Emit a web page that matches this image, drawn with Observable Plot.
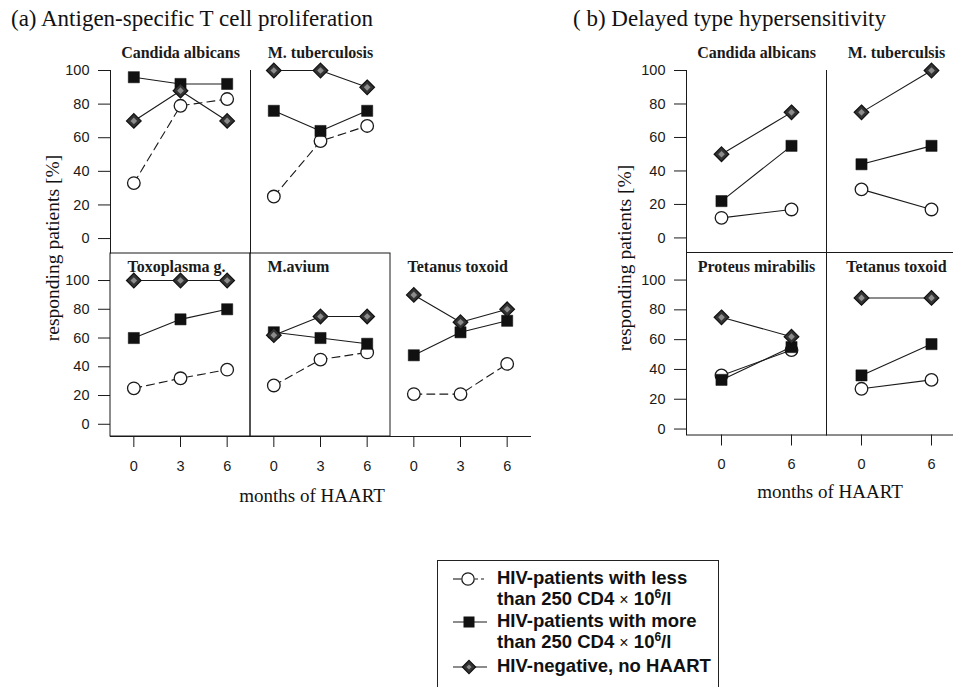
<!DOCTYPE html>
<html>
<head>
<meta charset="utf-8">
<script src="https://cdn.jsdelivr.net/npm/d3@7"></script>
<script src="https://cdn.jsdelivr.net/npm/@observablehq/plot@0.6"></script>
<style>
  html, body { margin: 0; padding: 0; background: #fff; }
  #root { position: relative; width: 953px; height: 687px; overflow: hidden; background: #fff; color: #111; }
  .abs { position: absolute; white-space: nowrap; }
  .serif { font-family: "Liberation Serif", "Times New Roman", serif; }
  .title { font-size: 23px; line-height: 1; transform: translateY(-50%); }
  .xlab { font-size: 19px; line-height: 1; transform: translate(-50%, -50%); }
  .ylab { font-size: 19.5px; line-height: 1; transform: translate(-50%, -50%) rotate(-90deg); }
  .legend { position: absolute; border: 1px solid #222; box-sizing: border-box; font-family: "Liberation Sans", Arial, sans-serif; font-weight: bold; font-size: 18.5px; line-height: 21px; color: #111; }
  .legend svg { position: absolute; overflow: visible; }
  .legend .txt { position: absolute; left: 59px; white-space: nowrap; }
  .legend .times { font-weight: normal; font-size: 16px; }
  .legend sup { font-size: 12px; line-height: 0; vertical-align: 7px; }
</style>
</head>
<body>
<div id="root"></div>
<script>
// ---------------- data ----------------
const monthsA = [0, 3, 6];
const monthsB = [0, 6];
const antigensA = ["Candida albicans", "M. tuberculosis", "Toxoplasma g.", "M.avium", "Tetanus toxoid"];
const antigensB = ["Candida albicans", "M. tuberculsis", "Proteus mirabilis", "Tetanus toxoid"];
const yTicks = [0, 20, 40, 60, 80, 100];

// (a) antigen-specific T cell proliferation, % responding (rows follow antigensA, columns follow monthsA)
const prolifLow  = [[33, 79, 83], [25, 58, 67], [25, 32, 38], [27, 45, 50], [21, 21, 42]];
const prolifHigh = [[96, 92, 92], [76, 64, 76], [60, 73, 80], [64, 60, 56], [48, 64, 72]];
const prolifNeg  = [[70, 88, 70], [100, 100, 90], [100, 100, 100], [62, 75, 75], [90, 71, 80]];

// (b) delayed type hypersensitivity, % responding (rows follow antigensB, columns follow monthsB)
const dthLow  = [[12, 17], [29, 17], [36, 53], [27, 33]];
const dthHigh = [[22, 55], [44, 55], [33, 55], [36, 57]];
const dthNeg  = [[50, 75], [75, 100], [75, 62], [88, 88]];

const titleA = "(a) Antigen-specific T cell proliferation";
const titleB = "( b) Delayed type hypersensitivity";
const yLabel = "responding patients [%]";
const xLabel = "months of HAART";

// ---------------- helpers ----------------
function tidy(antigens, months, series) {
  const out = [];
  series.forEach((vals, g) => vals.forEach((row, i) => row.forEach((v, j) =>
    out.push({antigen: antigens[i], month: months[j], value: v, group: g}))));
  return out;
}
const dataA = tidy(antigensA, monthsA, [prolifLow, prolifHigh, prolifNeg]);
const dataB = tidy(antigensB, monthsB, [dthLow, dthHigh, dthNeg]);

const root = document.getElementById("root");
const INK = "#1a1a1a";
const SERIF = "Liberation Serif, Times New Roman, serif";

function row(o) {
  const ml = 60, mr = 12, mt = 30, mb = o.showX ? 60 : 10;
  const pw = 140;
  const rows = o.data.filter(d => o.panels.includes(d.antigen));
  const grp = k => rows.filter(d => d.group === k);
  const marks = [];
  // panel borders
  if (o.border === "left") marks.push(Plot.frame({anchor: "left", stroke: INK}));
  if (o.border === "full") marks.push(Plot.frame({stroke: INK}));
  if (o.border === "boxes") {
    marks.push(Plot.rect(o.boxed, {fx: d => d, fill: "none", stroke: INK}));
    marks.push(Plot.frame({anchor: "bottom", stroke: INK}));
  }
  // axes
  marks.push(Plot.axisY({ticks: yTicks, tickSize: 12, tickPadding: 9, label: null, fontSize: 14.5, stroke: INK}));
  if (o.showX) marks.push(Plot.axisX({ticks: o.months, tickSize: 11, tickPadding: 13, label: null, fontSize: 14.5, stroke: INK}));
  // panel titles
  const tOpts = {fx: d => d, text: d => d, fontFamily: SERIF, fontWeight: "bold", fontSize: 16, fill: INK, lineAnchor: "middle"};
  if (o.titles === "above") marks.push(Plot.text(o.panels, {...tOpts, frameAnchor: "top", dy: -18}));
  if (o.titles === "insideLeft") marks.push(Plot.text(o.panels, {...tOpts, frameAnchor: "top-left", textAnchor: "start", dx: 17, dy: 13}));
  if (o.titles === "inside") marks.push(Plot.text(o.panels, {...tOpts, frameAnchor: "top", dy: 14}));
  // series lines
  const base = {fx: "antigen", x: "month", y: "value"};
  marks.push(Plot.line(grp(0), {...base, stroke: INK, strokeWidth: 1.1, strokeDasharray: o.dashLow ? "8,5" : null}));
  marks.push(Plot.line(grp(1), {...base, stroke: INK, strokeWidth: 1.1}));
  marks.push(Plot.line(grp(2), {...base, stroke: INK, strokeWidth: 1.1}));
  // symbols
  marks.push(Plot.dot(grp(0), {...base, symbol: "circle", r: 6.3, fill: "white", stroke: INK, strokeWidth: 1.3}));
  marks.push(Plot.dot(grp(1), {...base, symbol: "square", r: 6.3, fill: "#111", stroke: "#111", strokeWidth: 0.5}));
  marks.push(Plot.dot(grp(2), {...base, symbol: "diamond2", r: 6.6, fill: "#333", stroke: "#111", strokeWidth: 1.2}));
  marks.push(Plot.dot(grp(2), {...base, symbol: "diamond2", r: 3, fill: "#8c8c8c", stroke: "none"}));

  const xOpts = {domain: o.xDomain};
  if (!o.showX) xOpts.axis = null;
  const plot = Plot.plot({
    width: ml + o.panels.length * pw + mr,
    height: mt + (o.frameBottom - o.frameTop) + mb,
    marginTop: mt, marginBottom: mb, marginLeft: ml, marginRight: mr,
    fx: {domain: o.panels, padding: 0, axis: null},
    x: xOpts,
    y: {domain: o.yDomain},
    style: {fontFamily: "Liberation Sans, Arial, sans-serif", fontSize: "14px", color: INK, background: "transparent", overflow: "visible"},
    marks
  });
  plot.style.position = "absolute";
  plot.style.left = (o.frameLeft - ml) + "px";
  plot.style.top = (o.frameTop - mt) + "px";
  root.appendChild(plot);
}

// (a) top row
row({panels: antigensA.slice(0, 2), data: dataA, months: monthsA, xDomain: [-1.5, 7.5], yDomain: [-8.6, 100],
     frameTop: 70, frameBottom: 252.5, frameLeft: 109.5, showX: false, dashLow: true, border: "left", titles: "above"});
// (a) bottom row
row({panels: antigensA.slice(2), data: dataA, months: monthsA, xDomain: [-1.5, 7.5], yDomain: [-8.5, 118.8],
     frameTop: 252.5, frameBottom: 435.5, frameLeft: 109.5, showX: true, dashLow: true, border: "boxes",
     boxed: antigensA.slice(2, 4), titles: "insideLeft"});
// (b) top row
row({panels: antigensB.slice(0, 2), data: dataB, months: monthsB, xDomain: [-3, 9], yDomain: [-9, 100],
     frameTop: 69.5, frameBottom: 252, frameLeft: 685.5, showX: false, dashLow: false, border: "left", titles: "above"});
// (b) bottom row
row({panels: antigensB.slice(2), data: dataB, months: monthsB, xDomain: [-3, 9], yDomain: [-4, 118.5],
     frameTop: 252, frameBottom: 434.5, frameLeft: 685.5, showX: true, dashLow: false, border: "full", titles: "inside"});

// ---------------- text ----------------
function addText(cls, txt, x, y) {
  const d = document.createElement("div");
  d.className = "abs serif " + cls;
  d.textContent = txt;
  d.style.left = x + "px";
  d.style.top = y + "px";
  root.appendChild(d);
}
addText("title", titleA, 11, 18);
addText("title", titleB, 573, 18);
addText("xlab", xLabel, 312, 495);
addText("xlab", xLabel, 830, 491);
addText("ylab", yLabel, 53, 248);
addText("ylab", yLabel, 625, 258);

// ---------------- legend ----------------
const legend = document.createElement("div");
legend.className = "legend";
Object.assign(legend.style, {left: "437px", top: "560px", width: "282px", height: "140px"});
legend.innerHTML = `
  <svg style="left:15px;top:17px" width="34" height="2">
    <line x1="0" y1="1" x2="8" y2="1" stroke="${INK}" stroke-width="1.1"/>
    <line x1="22" y1="1" x2="34" y2="1" stroke="${INK}" stroke-width="1.1" stroke-dasharray="3,3"/>
    <circle cx="15" cy="1" r="6.2" fill="white" stroke="${INK}" stroke-width="1.3"/>
  </svg>
  <div class="txt" style="top:6px">HIV-patients with less<br>than 250 CD4 <span class="times">×</span> 10<sup>6</sup>/l</div>
  <svg style="left:15px;top:60px" width="34" height="2">
    <line x1="0" y1="1" x2="34" y2="1" stroke="${INK}" stroke-width="1.1"/>
    <rect x="10.5" y="-4.5" width="11" height="11" fill="#111"/>
  </svg>
  <div class="txt" style="top:49px">HIV-patients with more<br>than 250 CD4 <span class="times">×</span> 10<sup>6</sup>/l</div>
  <svg style="left:15px;top:105px" width="34" height="2">
    <line x1="0" y1="1" x2="34" y2="1" stroke="${INK}" stroke-width="1.1"/>
    <path d="M16,-5.6L22.6,1L16,7.6L9.4,1Z" fill="#333" stroke="#111" stroke-width="1.2"/>
    <path d="M16,-1.6L18.6,1L16,3.6L13.4,1Z" fill="#8c8c8c"/>
  </svg>
  <div class="txt" style="top:94px">HIV-negative, no HAART</div>
`;
root.appendChild(legend);
</script>
</body>
</html>
